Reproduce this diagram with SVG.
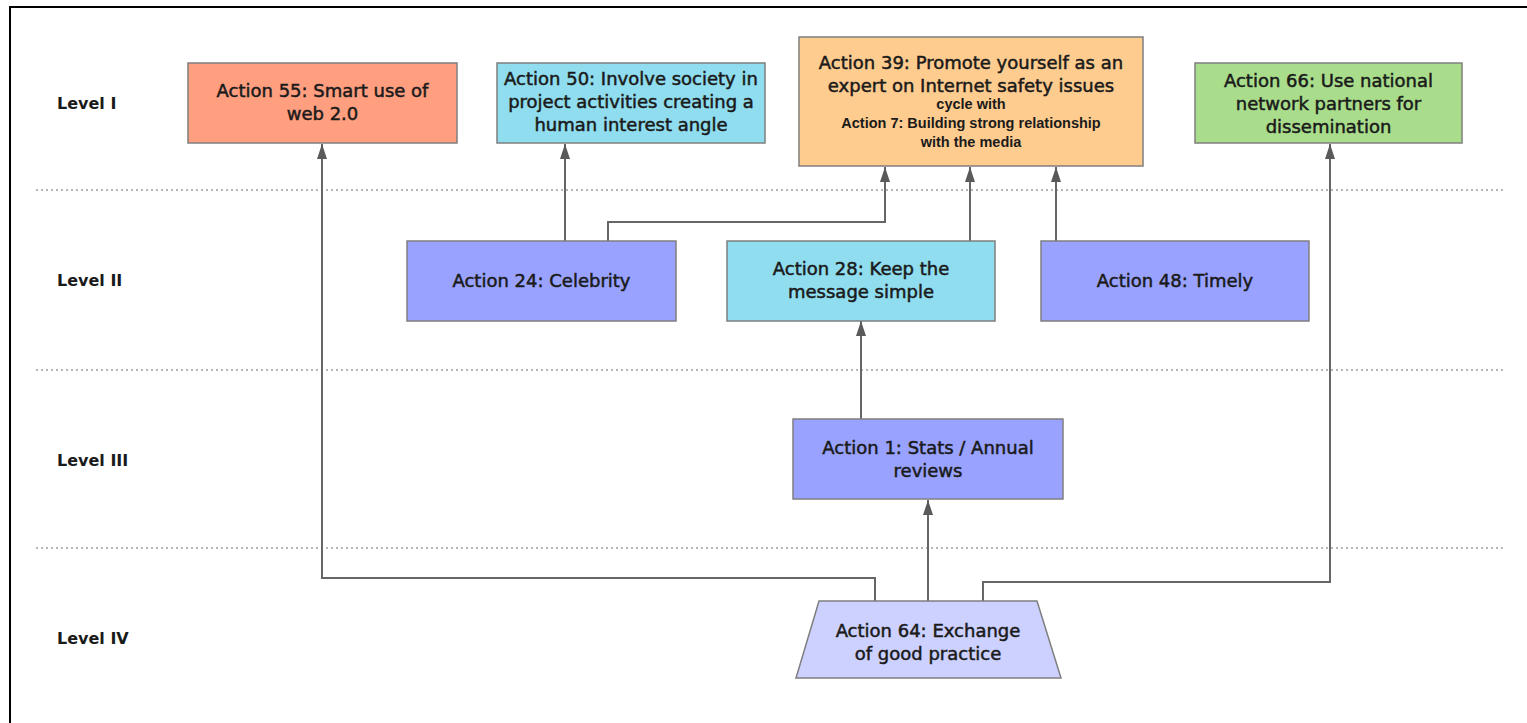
<svg xmlns="http://www.w3.org/2000/svg" width="1527" height="723" viewBox="0 0 1527 723">
<defs>
<marker id="arr" viewBox="0 0 15 10" refX="15" refY="5" markerWidth="15" markerHeight="10" markerUnits="userSpaceOnUse" orient="auto">
<path d="M0,0 L15,5 L0,10 Z" fill="#5a5a5a"/>
</marker>
</defs>
<style>
.box{stroke:#7f7f7f;stroke-width:1.5}
.t{font-family:"DejaVu Sans",sans-serif;font-size:18px;fill:#1a1a1a;text-anchor:middle;stroke:#1a1a1a;stroke-width:0.5}
.s{font-family:"Liberation Sans",Arial,sans-serif;font-size:14.5px;font-weight:bold;fill:#1a1a1a;text-anchor:middle}
.lv{font-family:"DejaVu Sans",sans-serif;font-size:16px;font-weight:bold;fill:#1a1a1a}
.dot{stroke:#a0a0a0;stroke-width:1.5;stroke-dasharray:2 3;fill:none}
.c{stroke:#666;stroke-width:2;fill:none}
</style>
<rect x="0" y="0" width="1527" height="723" fill="#fff"/>
<path d="M10,723 V7 H1527" fill="none" stroke="#000" stroke-width="2"/>
<g id="levels">
<line class="dot" x1="36" y1="190" x2="1506" y2="190"/>
<line class="dot" x1="36" y1="370" x2="1506" y2="370"/>
<line class="dot" x1="36" y1="548" x2="1506" y2="548"/>
<text class="lv" x="57" y="109">Level I</text>
<text class="lv" x="57" y="286">Level II</text>
<text class="lv" x="57" y="466">Level III</text>
<text class="lv" x="57" y="644">Level IV</text>
</g>
<g id="connectors">
<path class="c" d="M875,601 V578 H322 V144" marker-end="url(#arr)"/>
<path class="c" d="M928,601 V500" marker-end="url(#arr)"/>
<path class="c" d="M983,601 V582 H1330 V144" marker-end="url(#arr)"/>
<path class="c" d="M861,419 V321" marker-end="url(#arr)"/>
<path class="c" d="M565,241 V144" marker-end="url(#arr)"/>
<path class="c" d="M608,241 V222 H885 V167" marker-end="url(#arr)"/>
<path class="c" d="M970,241 V167" marker-end="url(#arr)"/>
<path class="c" d="M1056,241 V167" marker-end="url(#arr)"/>
</g>
<g id="n55">
<rect class="box" x="188" y="63" width="269" height="80" fill="#FF9F80"/>
<text class="t" x="322.5" y="97">Action 55: Smart use of</text>
<text class="t" x="322.5" y="120">web 2.0</text>
</g>
<g id="n50">
<rect class="box" x="497" y="63" width="268" height="80" fill="#8FDDEF"/>
<text class="t" x="631" y="85">Action 50: Involve society in</text>
<text class="t" x="631" y="108">project activities creating a</text>
<text class="t" x="631" y="131">human interest angle</text>
</g>
<g id="n39">
<rect class="box" x="799" y="37" width="344" height="129" fill="#FFCC8F"/>
<text class="t" x="971" y="69">Action 39: Promote yourself as an</text>
<text class="t" x="971" y="92">expert on Internet safety issues</text>
<text class="s" x="971" y="109">cycle with</text>
<text class="s" x="971" y="128">Action 7: Building strong relationship</text>
<text class="s" x="971" y="147">with the media</text>
</g>
<g id="n66">
<rect class="box" x="1195" y="63" width="267" height="80" fill="#A9DD8C"/>
<text class="t" x="1328.5" y="87">Action 66: Use national</text>
<text class="t" x="1328.5" y="110">network partners for</text>
<text class="t" x="1328.5" y="133">dissemination</text>
</g>
<g id="n24">
<rect class="box" x="407" y="241" width="269" height="80" fill="#99A3FF"/>
<text class="t" x="541.5" y="287">Action 24: Celebrity</text>
</g>
<g id="n28">
<rect class="box" x="727" y="241" width="268" height="80" fill="#8FDDEF"/>
<text class="t" x="861" y="275">Action 28: Keep the</text>
<text class="t" x="861" y="298">message simple</text>
</g>
<g id="n48">
<rect class="box" x="1041" y="241" width="268" height="80" fill="#99A3FF"/>
<text class="t" x="1175" y="287">Action 48: Timely</text>
</g>
<g id="n1">
<rect class="box" x="793" y="419" width="270" height="80" fill="#99A3FF"/>
<text class="t" x="928" y="454">Action 1: Stats / Annual</text>
<text class="t" x="928" y="477">reviews</text>
</g>
<g id="n64">
<polygon class="box" points="819,601 1037,601 1061,678 796,678" fill="#CCD1FF"/>
<text class="t" x="928" y="637">Action 64: Exchange</text>
<text class="t" x="928" y="660">of good practice</text>
</g>
</svg>
